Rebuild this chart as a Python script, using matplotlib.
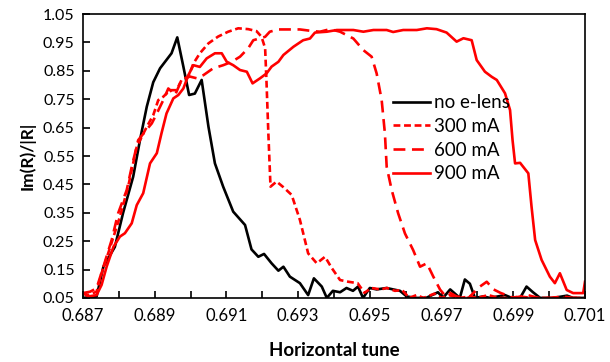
import numpy as np
import matplotlib
matplotlib.use("Agg")
import matplotlib.pyplot as plt
from matplotlib.ticker import MultipleLocator

plt.rcParams['font.family'] = ['Lato', 'DejaVu Sans']

# no e-lens
x0 = [0.6870, 0.68738, 0.68757, 0.68789, 0.68812, 0.6884, 0.68859, 0.68878, 0.68896,
      0.68915, 0.68947, 0.68963, 0.6898, 0.68996, 0.69012, 0.69031, 0.6905, 0.69068,
      0.69091, 0.69119, 0.69152, 0.6917, 0.69189, 0.69205, 0.69226, 0.69245, 0.69259,
      0.69277, 0.69305, 0.69328, 0.69344, 0.69366, 0.6938, 0.69397, 0.69417, 0.69435,
      0.69453, 0.69467, 0.69481, 0.695, 0.69519, 0.69547, 0.69565, 0.69584, 0.69603,
      0.6963, 0.69657, 0.6969, 0.69704, 0.69724, 0.69751, 0.69765, 0.69779, 0.69793,
      0.69816, 0.69835, 0.69877, 0.69896, 0.69919, 0.69937, 0.69955, 0.69975, 0.70011,
      0.7005, 0.70067, 0.70094]
y0 = [0.05, 0.055, 0.16, 0.23, 0.35, 0.477, 0.606, 0.724, 0.81,
      0.859, 0.912, 0.968, 0.865, 0.765, 0.77, 0.818, 0.653, 0.524,
      0.442, 0.354, 0.307, 0.221, 0.195, 0.205, 0.172, 0.146, 0.16,
      0.125, 0.102, 0.06, 0.119, 0.09, 0.05, 0.075, 0.07, 0.085,
      0.075, 0.09, 0.05, 0.085, 0.08, 0.085, 0.08, 0.075, 0.055,
      0.05, 0.05, 0.07, 0.05, 0.08, 0.05, 0.115, 0.10, 0.05,
      0.055, 0.05, 0.06, 0.05, 0.05, 0.09, 0.07, 0.05, 0.05,
      0.058, 0.05, 0.05]

# 300 mA
x300 = [0.6870, 0.68715, 0.68738, 0.68752, 0.68775, 0.68803, 0.68826, 0.6885, 0.68878,
        0.68896, 0.6891, 0.68924, 0.68943, 0.68961, 0.68975, 0.68994, 0.69008, 0.69026,
        0.6905, 0.69077, 0.69105, 0.69133, 0.69161, 0.69184, 0.69198, 0.69208, 0.69212,
        0.69217, 0.69223, 0.6924, 0.69259, 0.69282, 0.69305, 0.69328, 0.69352, 0.69375,
        0.69394, 0.69417, 0.6944, 0.69466, 0.69485, 0.69504, 0.6953, 0.69548, 0.6957,
        0.6959, 0.6961, 0.6963, 0.6965, 0.6968, 0.6970, 0.6972, 0.6975, 0.6978,
        0.6980, 0.6983, 0.6986, 0.6989, 0.6992, 0.6995, 0.6998, 0.7001, 0.7005, 0.7010]
y300 = [0.067, 0.06, 0.072, 0.137, 0.225, 0.336, 0.442, 0.583, 0.653,
        0.694, 0.747, 0.759, 0.782, 0.782, 0.818, 0.83, 0.876, 0.912,
        0.947, 0.971, 0.988, 1.0, 0.997, 0.99, 0.97, 0.93, 0.806,
        0.63, 0.442, 0.46, 0.44, 0.413, 0.325, 0.207, 0.172, 0.195,
        0.155, 0.113, 0.107, 0.102, 0.068, 0.085, 0.08, 0.085, 0.075,
        0.078, 0.05, 0.06, 0.05, 0.065, 0.05, 0.06, 0.05, 0.055,
        0.05, 0.06, 0.05, 0.05, 0.055, 0.05, 0.05, 0.05, 0.05, 0.05]

# 600 mA
x600 = [0.6870, 0.6872, 0.68738, 0.68757, 0.6878, 0.68798, 0.68822, 0.68836, 0.68854,
        0.68873, 0.68892, 0.68906, 0.68924, 0.68938, 0.68957, 0.68975, 0.68998, 0.69017,
        0.69036, 0.69063, 0.69091, 0.69115, 0.69138, 0.69161, 0.69175, 0.69194, 0.69208,
        0.69221, 0.69245, 0.69277, 0.69305, 0.69342, 0.69361, 0.69389, 0.69417, 0.69454,
        0.69482, 0.69505, 0.69519, 0.69533, 0.69542, 0.69547, 0.69561, 0.69579, 0.69598,
        0.69621, 0.6964, 0.69659, 0.69677, 0.69696, 0.6971, 0.69724, 0.69742, 0.69775,
        0.69807, 0.69826, 0.69845, 0.69864, 0.6990, 0.6994, 0.6997, 0.7000, 0.7004,
        0.7007, 0.7010]
y600 = [0.067, 0.072, 0.084, 0.16, 0.254, 0.348, 0.43, 0.512, 0.606,
        0.636, 0.665, 0.70, 0.747, 0.788, 0.765, 0.818, 0.83, 0.824,
        0.835, 0.859, 0.87, 0.882, 0.90, 0.93, 0.958, 0.965, 0.97,
        0.988, 0.996, 0.996, 0.996, 0.99, 0.988, 0.997, 0.988, 0.964,
        0.923, 0.90, 0.841, 0.747, 0.63, 0.512, 0.43, 0.348, 0.277,
        0.218, 0.16, 0.172, 0.125, 0.079, 0.058, 0.068, 0.055, 0.05,
        0.09, 0.107, 0.08, 0.068, 0.05, 0.06, 0.05, 0.05, 0.055,
        0.05, 0.05]

# 900 mA
x900 = [0.6870, 0.68715, 0.68738, 0.68752, 0.68766, 0.68785, 0.68803, 0.68817, 0.68836,
        0.6885, 0.68868, 0.68887, 0.68906, 0.68919, 0.68933, 0.68952, 0.68966, 0.6898,
        0.68994, 0.69008, 0.69026, 0.69045, 0.69068, 0.69087, 0.69101, 0.69119, 0.69138,
        0.69157, 0.69173, 0.69194, 0.69212, 0.69226, 0.69245, 0.69259, 0.69287, 0.69314,
        0.69333, 0.69347, 0.6938, 0.69408, 0.69454, 0.69482, 0.6951, 0.69547, 0.69565,
        0.69593, 0.69631, 0.69659, 0.69686, 0.69714, 0.69742, 0.69761, 0.69784, 0.69798,
        0.69821, 0.6984, 0.69854, 0.69877, 0.69891, 0.69898, 0.69905, 0.69919, 0.69942,
        0.69951, 0.69961, 0.69979, 0.70002, 0.70016, 0.7003, 0.70049, 0.70067, 0.70095,
        0.7010]
y900 = [0.067, 0.055, 0.06, 0.096, 0.16, 0.23, 0.266, 0.278, 0.313,
        0.377, 0.419, 0.524, 0.56, 0.63, 0.70, 0.753, 0.765, 0.788,
        0.835, 0.87, 0.864, 0.894, 0.912, 0.912, 0.882, 0.87, 0.853,
        0.847, 0.806, 0.824, 0.841, 0.865, 0.882, 0.906, 0.935, 0.958,
        0.964, 0.985, 0.988, 0.994, 0.994, 0.988, 0.994, 0.994, 0.987,
        0.994, 0.994, 1.0, 0.997, 0.985, 0.953, 0.965, 0.958, 0.888,
        0.847, 0.829, 0.818, 0.771, 0.712, 0.606, 0.524, 0.526, 0.489,
        0.371, 0.254, 0.184, 0.125, 0.102, 0.137, 0.078, 0.067, 0.067,
        0.107]

fig = plt.figure(figsize=(6.1, 3.62), dpi=100)
ax = fig.add_axes([0.136, 0.177, 0.823, 0.784])

lw = 1.9
ax.plot(x0, y0, color='black', lw=lw, label='no e-lens')
ax.plot(x300, y300, color='red', lw=lw, dashes=(2.6, 1.4), label='300 mA')
ax.plot(x600, y600, color='red', lw=lw, dashes=(4.5, 2.5), label='600 mA')
ax.plot(x900, y900, color='red', lw=lw, label='900 mA')

ax.set_xlim(0.687, 0.701)
ax.set_ylim(0.05, 1.05)
ax.xaxis.set_minor_locator(MultipleLocator(0.001))
xt = np.arange(0.687, 0.7011, 0.002)
yt = np.arange(0.05, 1.051, 0.1)
ax.set_xticks(xt)
ax.set_xticklabels(['%.3f' % v for v in xt])
ax.set_yticks(yt)
ax.set_yticklabels(['%.2f' % v for v in yt])
ax.tick_params(axis='both', which='both', direction='in', width=1.2)
ax.tick_params(axis='x', which='major', length=5, pad=7, labelsize=12)
ax.tick_params(axis='y', which='major', length=5, pad=6, labelsize=11.5)
ax.tick_params(axis='x', which='minor', length=5)
for s in ax.spines.values():
    s.set_linewidth(1.2)

ax.set_xlabel('Horizontal tune', fontsize=13.5, fontweight='bold', labelpad=13)
ax.set_ylabel('Im(R)/|R|', fontsize=12.5, fontweight='bold', labelpad=5)

ax.legend(loc='upper left', bbox_to_anchor=(0.617, 0.718), frameon=False,
          fontsize=13.5, handlelength=2.0, handletextpad=0.2, labelspacing=0.36,
          borderaxespad=0, borderpad=0)

fig.savefig('out.png', dpi=100)
